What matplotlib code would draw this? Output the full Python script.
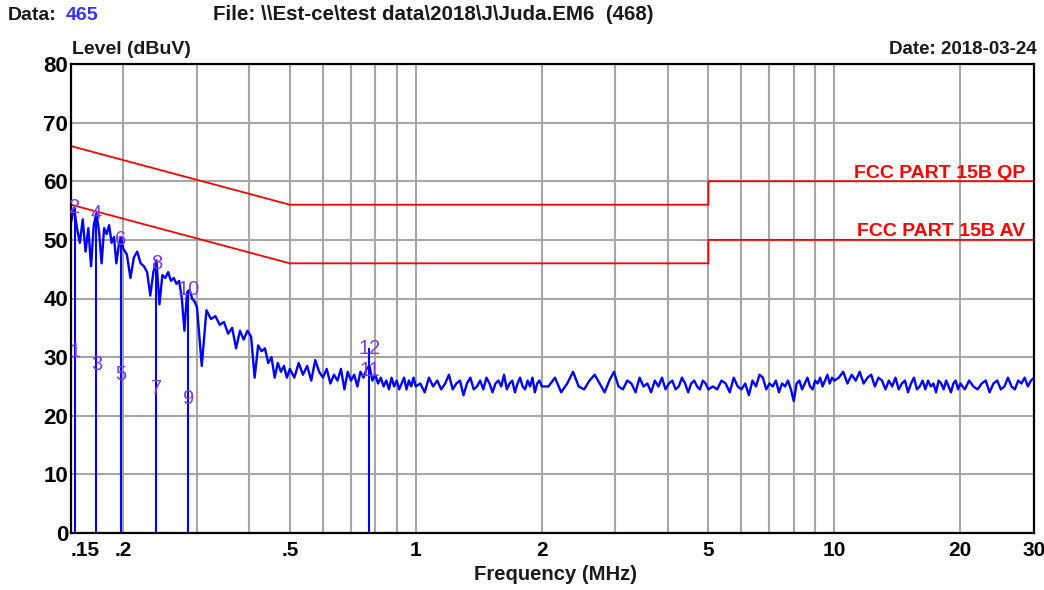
import matplotlib
matplotlib.use('Agg')
import matplotlib.pyplot as plt
import matplotlib.transforms as mtransforms

plt.rcParams['font.family'] = ['Liberation Sans', 'DejaVu Sans']

# ---- measured trace (frequency in MHz, level in dBuV) ----
FREQ_A = [0.150, 0.1525, 0.155, 0.1575, 0.160, 0.1625, 0.165, 0.1675, 0.170, 0.1725,
          0.175, 0.1775, 0.180, 0.1825, 0.185, 0.1875, 0.190, 0.1925, 0.195, 0.1975, 0.200]
LEVEL_A = [53.0, 55.5, 52.0, 49.5, 53.5, 48.0, 52.0, 45.5, 52.5, 54.5,
           51.5, 46.0, 52.0, 51.0, 52.5, 49.5, 50.5, 46.0, 49.0, 50.5, 48.5]

FREQ_B = [0.204, 0.208, 0.212, 0.216, 0.220, 0.224, 0.228, 0.232, 0.236, 0.240,
          0.244, 0.248, 0.252, 0.256, 0.260, 0.264, 0.268, 0.272, 0.276, 0.280,
          0.284, 0.288, 0.292, 0.296, 0.300]
LEVEL_B = [47.5, 43.5, 47.0, 48.0, 46.0, 45.5, 44.5, 40.5, 44.5, 46.5,
           39.0, 44.0, 43.5, 44.5, 43.0, 43.5, 42.5, 43.0, 40.0, 34.5,
           41.0, 41.5, 40.0, 39.5, 38.5]

FREQ_C = [0.308, 0.316, 0.324, 0.332, 0.340, 0.348, 0.356, 0.364, 0.372, 0.380,
          0.388, 0.396, 0.404, 0.412, 0.420, 0.428, 0.436, 0.444, 0.452, 0.460,
          0.468, 0.476, 0.484, 0.492, 0.500]
LEVEL_C = [28.5, 38.0, 36.5, 37.0, 35.5, 36.0, 34.0, 35.0, 31.5, 34.5,
           33.0, 34.5, 33.5, 26.5, 32.0, 31.0, 31.5, 29.0, 30.0, 26.5,
           29.0, 27.5, 28.5, 26.5, 28.0]

FREQ_D = [0.5125, 0.525, 0.5375, 0.55, 0.5625, 0.575, 0.5875, 0.6, 0.6125, 0.625,
          0.6375, 0.65, 0.6625, 0.675, 0.6875, 0.7, 0.7125, 0.725, 0.7375, 0.75,
          0.7625, 0.775, 0.7875, 0.8, 0.8125, 0.825, 0.8375, 0.85, 0.8625, 0.875,
          0.8875, 0.9, 0.9125, 0.925, 0.9375, 0.95, 0.9625, 0.975, 0.9875, 1.0]
LEVEL_D = [26.5, 29.0, 27.0, 28.5, 26.0, 29.5, 27.5, 26.5, 28.0, 25.5,
           27.0, 26.0, 28.0, 24.5, 27.5, 26.0, 27.0, 25.0, 27.5, 26.5,
           28.0, 28.5, 26.0, 27.0, 25.5, 26.5, 25.0, 26.0, 24.5, 26.5,
           25.0, 26.0, 24.5, 25.5, 26.5, 24.5, 26.0, 25.0, 26.5, 25.0]

FREQ_E = [1.025, 1.05, 1.075, 1.1, 1.125, 1.15, 1.175, 1.2, 1.225, 1.25,
          1.275, 1.3, 1.325, 1.35, 1.375, 1.4, 1.425, 1.45, 1.475, 1.5,
          1.525, 1.55, 1.575, 1.6, 1.625, 1.65, 1.675, 1.7, 1.725, 1.75,
          1.775, 1.8, 1.825, 1.85, 1.875, 1.9, 1.925, 1.95, 1.975, 2.0]
LEVEL_E = [25.5, 24.0, 26.5, 25.0, 26.0, 24.5, 25.5, 27.0, 24.5, 25.5,
           26.0, 23.5, 25.5, 26.5, 24.5, 25.0, 26.0, 24.5, 26.5, 25.5,
           24.0, 25.5, 26.0, 25.0, 27.0, 24.5, 25.5, 26.0, 24.0, 25.5,
           26.5, 25.0, 24.5, 26.0, 25.0, 26.5, 24.0, 25.5, 26.0, 25.0]

FREQ_F = [2.075, 2.15, 2.225, 2.3, 2.375, 2.45, 2.525, 2.6, 2.675, 2.75,
          2.825, 2.9, 2.975, 3.05, 3.125, 3.2, 3.275, 3.35, 3.425, 3.5,
          3.575, 3.65, 3.725, 3.8, 3.875, 3.95, 4.025, 4.1, 4.175, 4.25,
          4.325, 4.4, 4.475, 4.55, 4.625, 4.7, 4.775, 4.85, 4.925, 5.0]
LEVEL_F = [25.0, 26.5, 24.0, 25.5, 27.5, 25.0, 24.5, 26.0, 27.0, 25.5,
           24.0, 26.0, 27.5, 25.0, 24.5, 26.0, 25.5, 24.0, 26.5, 25.0,
           25.5, 24.0, 26.0, 25.0, 26.5, 24.5, 25.5, 26.0, 24.5, 25.0,
           26.5, 25.5, 24.0, 25.5, 26.0, 25.0, 24.5, 26.0, 25.5, 24.5]

FREQ_G = [5.125, 5.25, 5.375, 5.5, 5.625, 5.75, 5.875, 6.0, 6.125, 6.25,
          6.375, 6.5, 6.625, 6.75, 6.875, 7.0, 7.125, 7.25, 7.375, 7.5,
          7.625, 7.75, 7.875, 8.0, 8.125, 8.25, 8.375, 8.5, 8.625, 8.75,
          8.875, 9.0, 9.125, 9.25, 9.375, 9.5, 9.625, 9.75, 9.875, 10.0]
LEVEL_G = [25.0, 24.5, 26.0, 25.5, 24.0, 26.5, 25.0, 24.5, 25.5, 23.5,
           26.0, 25.0, 27.0, 26.5, 24.5, 25.5, 25.0, 26.0, 24.0, 25.5,
           25.0, 26.0, 24.5, 22.5, 25.5, 26.0, 24.5, 25.5, 26.5, 25.0,
           24.5, 26.0, 25.5, 26.5, 25.0, 26.0, 27.0, 25.5, 26.5, 26.0]

FREQ_H1 = [10.25, 10.5, 10.75, 11.0, 11.25, 11.5, 11.75, 12.0, 12.25, 12.5,
           12.75, 13.0, 13.25, 13.5, 13.75, 14.0, 14.25, 14.5, 14.75, 15.0,
           15.25, 15.5, 15.75, 16.0, 16.25, 16.5, 16.75, 17.0, 17.25, 17.5,
           17.75, 18.0, 18.25, 18.5, 18.75, 19.0, 19.25, 19.5, 19.75, 20.0]
LEVEL_H1 = [26.5, 27.5, 25.5, 27.0, 26.0, 27.5, 25.5, 26.5, 27.0, 25.0,
            26.5, 26.0, 24.5, 26.0, 25.0, 26.5, 24.5, 25.5, 26.0, 24.0,
            25.5, 26.5, 24.5, 25.0, 26.0, 24.5, 26.0, 25.0, 25.5, 24.0,
            26.0, 25.5, 24.5, 26.0, 25.0, 24.0, 25.5, 26.0, 24.5, 25.5]

FREQ_H2 = [20.5, 21.0, 21.5, 22.0, 22.5, 23.0, 23.5, 24.0, 24.5, 25.0,
           25.5, 26.0, 26.5, 27.0, 27.5, 28.0, 28.5, 29.0, 29.5, 30.0]
LEVEL_H2 = [24.5, 26.0, 25.0, 24.5, 25.5, 26.0, 24.0, 25.5, 26.0, 24.5,
            25.0, 26.5, 25.0, 24.5, 26.0, 25.5, 26.5, 25.0, 26.0, 26.5]

# ---- limit lines ----
QP_FREQ = [0.15, 0.5, 5.0, 5.0, 30.0]
QP_LEVEL = [66.0, 56.0, 56.0, 60.0, 60.0]
AV_FREQ = [0.15, 0.5, 5.0, 5.0, 30.0]
AV_LEVEL = [56.0, 46.0, 46.0, 50.0, 50.0]
QP_NAME = "FCC PART 15B QP"
AV_NAME = "FCC PART 15B AV"

# ---- markers (odd = AV reading, even = QP reading) ----
MARKER_FREQ = [0.153, 0.1725, 0.1975, 0.240, 0.286, 0.775]
MARKER_QP = [55.5, 54.5, 50.0, 46.0, 41.5, 31.5]
MARKER_AV = [31.0, 28.7, 27.0, 24.7, 23.0, 27.8]

# ---- axis ticks ----
XTICKS = [0.15, 0.2, 0.5, 1, 2, 5, 10, 20, 30]
XTICK_LABELS = ['.15', '.2', '.5', '1', '2', '5', '10', '20', '30']
XMINOR = [0.3, 0.4, 0.6, 0.7, 0.8, 0.9, 3, 4, 6, 7, 8, 9]
YTICKS = [0, 10, 20, 30, 40, 50, 60, 70, 80]

freq = (FREQ_A + FREQ_B + FREQ_C + FREQ_D + FREQ_E + FREQ_F + FREQ_G
        + FREQ_H1 + FREQ_H2)
level = (LEVEL_A + LEVEL_B + LEVEL_C + LEVEL_D + LEVEL_E + LEVEL_F + LEVEL_G
         + LEVEL_H1 + LEVEL_H2)

W, H = 1044, 590
fig = plt.figure(figsize=(W / 100, H / 100), dpi=100)
fig.patch.set_facecolor('white')
L, R, T, B = 71, 1034, 64, 533
ax = fig.add_axes([L / W, 1 - B / H, (R - L) / W, (B - T) / H])

ax.set_xscale('log')
ax.set_xlim(0.15, 30)
ax.set_ylim(0, 80)
ax.set_xticks(XTICKS)
ax.set_xticklabels(XTICK_LABELS)
ax.set_xticks(XMINOR, minor=True)
ax.set_xticklabels([], minor=True)
ax.set_yticks(YTICKS)
ax.set_yticklabels([str(v) for v in YTICKS])
ax.tick_params(which='both', length=0)
ax.tick_params(axis='x', pad=6, labelsize=15)
ax.tick_params(axis='y', pad=2, labelsize=16)
for lab in ax.get_xticklabels() + ax.get_yticklabels():
    lab.set_fontweight('bold')
ax.get_xticklabels()[0].set_horizontalalignment('left')

ax.set_axisbelow(True)
ax.grid(True, which='both', axis='x', color='#a6a6a6', lw=1.5)
ax.grid(True, which='major', axis='y', color='#a6a6a6', lw=1.5)
for s in ax.spines.values():
    s.set_color('black')
    s.set_linewidth(1.6)

# limits
ax.plot(QP_FREQ, QP_LEVEL, color='#ff0000', lw=1.3)
ax.plot(AV_FREQ, AV_LEVEL, color='#ff0000', lw=1.3)
bt = mtransforms.blended_transform_factory(ax.transAxes, ax.transData)
ax.text(0.991, 60.6, QP_NAME, transform=bt, ha='right', va='baseline',
        color='#ff0000', fontsize=14, fontweight='bold')
ax.text(0.991, 50.7, AV_NAME, transform=bt, ha='right', va='baseline',
        color='#ff0000', fontsize=14, fontweight='bold')

# trace
ax.plot(freq, level, color='#0000ff', lw=1.7)

# markers
ax.vlines(MARKER_FREQ, 0, MARKER_QP, colors='#0000ff', lw=1.5)
mcol = '#7a3cf0'
for i, f in enumerate(MARKER_FREQ):
    ax.text(f, MARKER_AV[i], str(2 * i + 1), ha='center', va='center',
            color=mcol, fontsize=14.5, zorder=5)
    ax.text(f, MARKER_QP[i], str(2 * i + 2), ha='center', va='center',
            color=mcol, fontsize=14.5, zorder=5)

# texts
fig.text(8 / W, 1 - 15 / H, 'Data:', ha='left', va='center', fontsize=14,
         fontweight='bold', color='#1a1a1a')
fig.text(66 / W, 1 - 15 / H, '465', ha='left', va='center', fontsize=14,
         fontweight='bold', color='#3333ff')
fig.text(213 / W, 1 - 15 / H, 'File: \\\\Est-ce\\test data\\2018\\J\\Juda.EM6  (468)',
         ha='left', va='center', fontsize=14.8, fontweight='bold', color='#1a1a1a')
fig.text(72 / W, 1 - 50 / H, 'Level (dBuV)', ha='left', va='center', fontsize=14,
         fontweight='bold', color='#1a1a1a')
fig.text(1037 / W, 1 - 50 / H, 'Date: 2018-03-24', ha='right', va='center',
         fontsize=13.5, fontweight='bold', color='#1a1a1a')
fig.text(555 / W, 1 - 575 / H, 'Frequency (MHz)', ha='center', va='center',
         fontsize=14.6, fontweight='bold', color='#1a1a1a')

fig.savefig('out.png', dpi=100)
